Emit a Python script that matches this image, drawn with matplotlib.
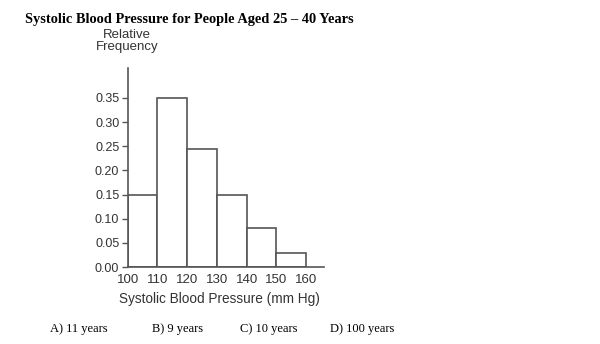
import matplotlib
matplotlib.use("Agg")
from matplotlib import pyplot as plt

bin_edges = [100, 110, 120, 130, 140, 150, 160]
rel_freq = [0.15, 0.35, 0.245, 0.15, 0.08, 0.03]
y_ticks = [0.00, 0.05, 0.10, 0.15, 0.20, 0.25, 0.30, 0.35]
choices = ["A) 11 years", "B) 9 years", "C) 10 years", "D) 100 years"]
choice_x = [50, 152, 240, 330]

edge_col = "#555555"
text_col = "#333333"

fig = plt.figure(figsize=(6, 3.44), dpi=100)
ax = fig.add_axes([0.2128, 0.2238, 0.3273, 0.5785])

widths = [bin_edges[i + 1] - bin_edges[i] for i in range(len(rel_freq))]
ax.bar(bin_edges[:-1], rel_freq, width=widths, align="edge",
       facecolor="white", edgecolor=edge_col, linewidth=1.2)

ax.set_xlim(100, 166)
ax.set_ylim(0, 0.412)
ax.set_xticks(bin_edges)
ax.set_xticklabels([str(v) for v in bin_edges])
ax.set_yticks(y_ticks)
ax.set_yticklabels(["%.2f" % v for v in y_ticks])
ax.tick_params(axis="x", length=0, pad=5, labelsize=9.5, labelcolor=text_col)
ax.tick_params(axis="y", length=4, width=1, color=edge_col, pad=2,
               labelsize=9, labelcolor=text_col)
for lab in ax.get_xticklabels() + ax.get_yticklabels():
    lab.set_family("Liberation Sans")
for lab in ax.get_yticklabels():
    lab.set_verticalalignment("center_baseline")

for s in ["top", "right"]:
    ax.spines[s].set_visible(False)
for s in ["left", "bottom"]:
    ax.spines[s].set_color(edge_col)
    ax.spines[s].set_linewidth(1.2)

ax.set_xlabel("Systolic Blood Pressure (mm Hg)", fontsize=9.8,
              family="Liberation Sans", color=text_col, labelpad=3)
ax.xaxis.set_label_coords(0.468, -0.125)

fig.text(25 / 600, 1 - 19 / 344, "Systolic Blood Pressure for People Aged 25 \u2013 40 Years",
         family="Liberation Serif", weight="bold", fontsize=10.35, va="center", ha="left")
fig.text(127 / 600, 1 - 41 / 344, "Relative\nFrequency", family="Liberation Sans",
         fontsize=9.5, color=text_col, ha="center", va="center", linespacing=0.95)

for lbl, xp in zip(choices, choice_x):
    fig.text(xp / 600, 1 - 329 / 344, lbl, family="Liberation Serif",
             fontsize=9.0, ha="left", va="center")

fig.savefig("out.png", dpi=100)
